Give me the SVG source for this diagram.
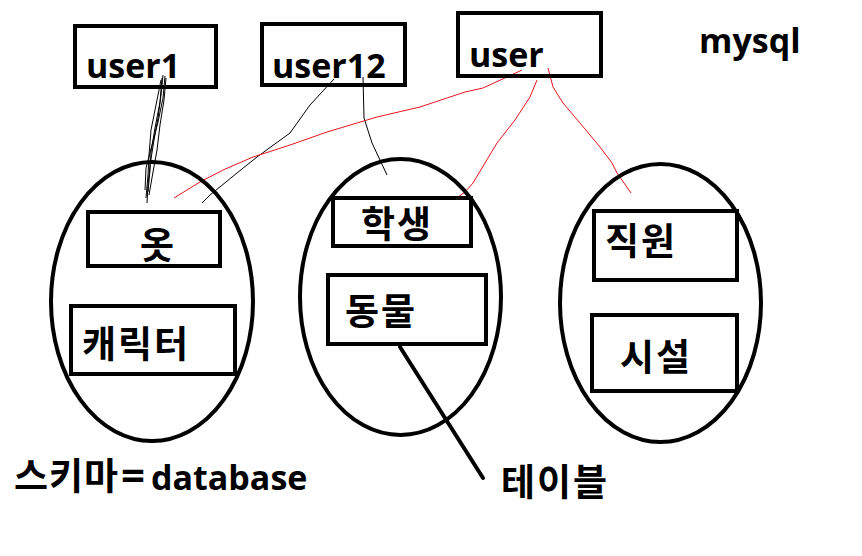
<svg xmlns="http://www.w3.org/2000/svg" width="862" height="556" viewBox="0 0 862 556">
<style>
.box{fill:none;stroke:#000;stroke-width:4}
.ell{fill:none;stroke:#000;stroke-width:4}
.t{font-family:"Open Sans","Noto Sans CJK KR",sans-serif;font-weight:bold;font-size:34px;fill:#000}
.k{font-family:"Noto Sans CJK KR",sans-serif;font-weight:bold;font-size:37px;letter-spacing:2px;fill:#000}
.thin{fill:none;stroke:#000;stroke-width:1}
.red{fill:none;stroke:#e8141c;stroke-width:1}
</style>
<rect width="862" height="556" fill="#fff"/>
<g id="connectors">
<polyline class="thin" points="163,75 161,95 158,118 154,140 150,165 148,185 147,203"/>
<polyline class="thin" points="166,78 164,100 160,125 157,150 153,172 149,195"/>
<polyline class="thin" points="161,80 156,105 151,130 149,155 148,175 146,198"/>
<polyline class="thin" points="165,76 163,98 158,122 152,145 146,168 145,190"/>
<polyline class="thin" points="162,78 160,102 155,128 151,152 150,170 148,192"/>
<polyline class="thin" points="334,79 310,105 290,133 257,157 237,173 210,195 202,203"/>
<polyline class="thin" points="363,77 364,118 372,143 380,160 387,175"/>
<polyline class="red" points="522,70 507,77 483,88 465,92 420,107 377,117 327,132 290,145 253,157 223,170 200,182 174,198"/>
<polyline class="red" points="537,80 530,97 515,120 497,143 485,163 473,183 465,192 458,197"/>
<polyline class="red" points="548,68 553,87 563,103 580,123 600,147 612,163 617,173 631,193"/>
<line x1="400" y1="347" x2="483" y2="478" stroke="#000" stroke-width="4" stroke-linecap="round"/>
</g>
<g id="user1"><rect class="box" x="75" y="26" width="141" height="61"/><text class="t" x="86" y="78">user1</text></g>
<g id="user12"><rect class="box" x="262" y="24" width="143" height="61"/><text class="t" x="272" y="78">user12</text></g>
<g id="user"><rect class="box" x="458" y="13" width="143" height="63"/><text class="t" x="469" y="67">user</text></g>
<g id="mysql"><text class="t" x="699" y="53">mysql</text></g>
<g id="schema1"><ellipse class="ell" cx="152" cy="301.5" rx="101" ry="139.5"/></g>
<g id="schema2"><ellipse class="ell" cx="400.5" cy="297" rx="100.5" ry="138"/></g>
<g id="schema3"><ellipse class="ell" cx="660.5" cy="303" rx="100.5" ry="139"/></g>
<g id="t-clothes"><rect class="box" x="88" y="212" width="132" height="54"/><text class="k" x="140" y="259">옷</text></g>
<g id="t-character"><rect class="box" x="71" y="306" width="164" height="68"/><text class="k" x="82" y="358">캐릭터</text></g>
<g id="t-student"><rect class="box" x="333" y="198" width="138" height="48"/><text class="k" x="361" y="238">학생</text></g>
<g id="t-animal"><rect class="box" x="328" y="275" width="158" height="69"/><text class="k" x="345" y="325">동물</text></g>
<g id="t-staff"><rect class="box" x="594" y="211" width="143" height="69"/><text class="k" x="605" y="255">직원</text></g>
<g id="t-facility"><rect class="box" x="592" y="315" width="145" height="76"/><text class="k" x="620" y="371">시설</text></g>
<g id="label-table"><text class="k" x="501" y="496">테이블</text></g>
<g id="label-schema"><text class="t" x="14" y="490"><tspan class="k" style="letter-spacing:1px">스키마</tspan><tspan x="121" style="font-size:42px">=</tspan><tspan x="151">database</tspan></text></g>
</svg>
